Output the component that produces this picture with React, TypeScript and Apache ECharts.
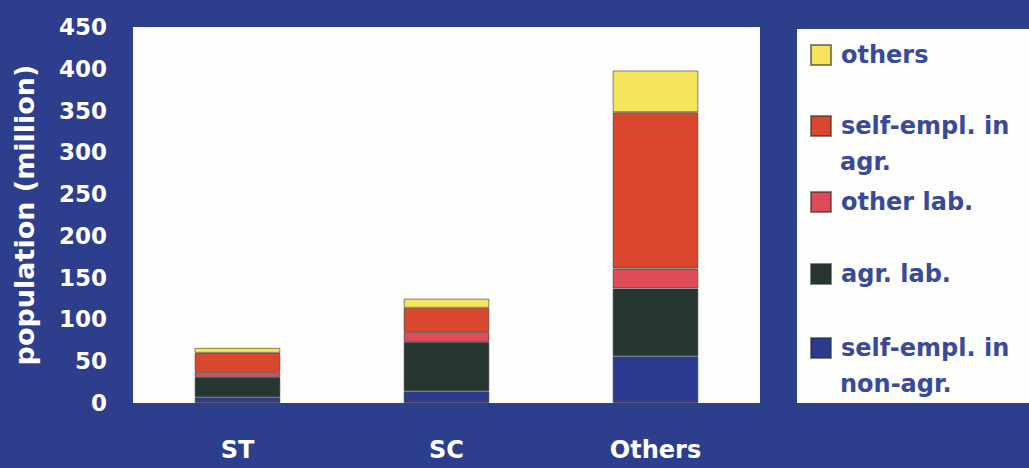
import React, { useEffect, useRef } from "react";
import * as echarts from "echarts";

const categories = ["ST", "SC", "Others"];
const seriesNames = [
  "self-empl. in non-agr.",
  "agr. lab.",
  "other lab.",
  "self-empl. in agr.",
  "others",
];
// legend lines: first line shown by the legend, second (if any) below it
const legendFirstLine = ["self-empl. in", "agr. lab.", "other lab.", "self-empl. in", "others"];
const legendSecondLine = ["non-agr.", "", "", "agr.", ""];
const selfEmplNonAgr = [7, 14, 56];
const agrLab = [24, 59, 81];
const otherLab = [6, 12, 24];
const selfEmplAgr = [23, 29, 187];
const othersVals = [6, 11, 50];
const seriesColors = ["#2c3b90", "#263633", "#e04b58", "#d9482c", "#f6e45c"];
const yTicks = [0, 50, 100, 150, 200, 250, 300, 350, 400, 450];

const BG = "#2d3e8c";
const LEGEND_TEXT = "#3a4a9a";
const FONT = "DejaVu Sans";

export default function App() {
  const ref = useRef<HTMLDivElement>(null);
  useEffect(() => {
    if (!ref.current) return;
    const chart = echarts.init(ref.current, undefined, { renderer: "svg" });
    const data = [selfEmplNonAgr, agrLab, otherLab, selfEmplAgr, othersVals];
    const legendOrder = [4, 3, 2, 1, 0];
    const legendCenters = [55, 126, 202, 274, 348];
    const lh = 36;
    const legends = legendOrder.map((si, i) => ({
      left: 810,
      top: legendCenters[i] - lh / 2,
      orient: "vertical",
      padding: 0,
      selectedMode: false,
      itemWidth: 20,
      itemHeight: 20,
      icon: "rect",
      data: [seriesNames[si]],
      formatter: () => legendFirstLine[si],
      textStyle: {
        color: LEGEND_TEXT,
        fontFamily: FONT,
        fontWeight: "bold",
        fontSize: 24,
        lineHeight: lh,
        padding: [0, 0, 0, 5],
      },
    }));
    const secondLines: any[] = [];
    legendOrder.forEach((si, i) => {
      if (legendSecondLine[si]) {
        secondLines.push({
          type: "text",
          left: 840,
          top: legendCenters[i] + lh / 2,
          style: {
            text: legendSecondLine[si],
            fill: LEGEND_TEXT,
            font: `bold 24px "${FONT}"`,
            lineHeight: lh,
          },
          z: 10,
        });
      }
    });
    chart.setOption({
      animation: false,
      backgroundColor: BG,
      textStyle: { fontFamily: FONT },
      graphic: [
        {
          type: "rect",
          left: 797,
          top: 29,
          shape: { width: 240, height: 374 },
          style: { fill: "#fdfdfb" },
          z: -1,
        },
        ...secondLines,
      ],
      legend: legends,
      grid: {
        left: 133,
        right: 269,
        top: 27,
        bottom: 65,
        show: true,
        backgroundColor: "#fdfdfb",
        borderWidth: 0,
        containLabel: false,
        outerBoundsMode: "none",
      },
      xAxis: {
        type: "category",
        data: categories,
        axisLine: { show: false },
        axisTick: { show: false },
        axisLabel: {
          color: "#ffffff",
          fontFamily: FONT,
          fontWeight: "bold",
          fontSize: 24,
          margin: 35,
        },
      },
      yAxis: {
        type: "value",
        min: 0,
        max: 450,
        interval: 50,
        name: "population (million)",
        nameLocation: "middle",
        nameRotate: 90,
        nameGap: 95,
        nameTextStyle: {
          color: "#ffffff",
          fontFamily: FONT,
          fontWeight: "bold",
          fontSize: 27,
        },
        axisLine: { show: false },
        axisTick: { show: false },
        splitLine: { show: false },
        axisLabel: {
          color: "#ffffff",
          fontFamily: FONT,
          fontWeight: "bold",
          fontSize: 23,
          margin: 26,
          formatter: (v: number) => (yTicks.includes(v) ? String(v) : ""),
        },
      },
      series: seriesNames.map((name, i) => ({
        name,
        type: "bar",
        stack: "total",
        barWidth: "41%",
        data: data[i],
        itemStyle: {
          color: seriesColors[i],
          borderColor: "rgba(40,40,40,0.55)",
          borderWidth: 1,
        },
      })),
    });
    return () => chart.dispose();
  }, []);
  return (
    <div
      ref={ref}
      style={{
        position: "fixed",
        left: 0,
        top: 0,
        width: 1029,
        height: 468,
        background: BG,
      }}
    />
  );
}
